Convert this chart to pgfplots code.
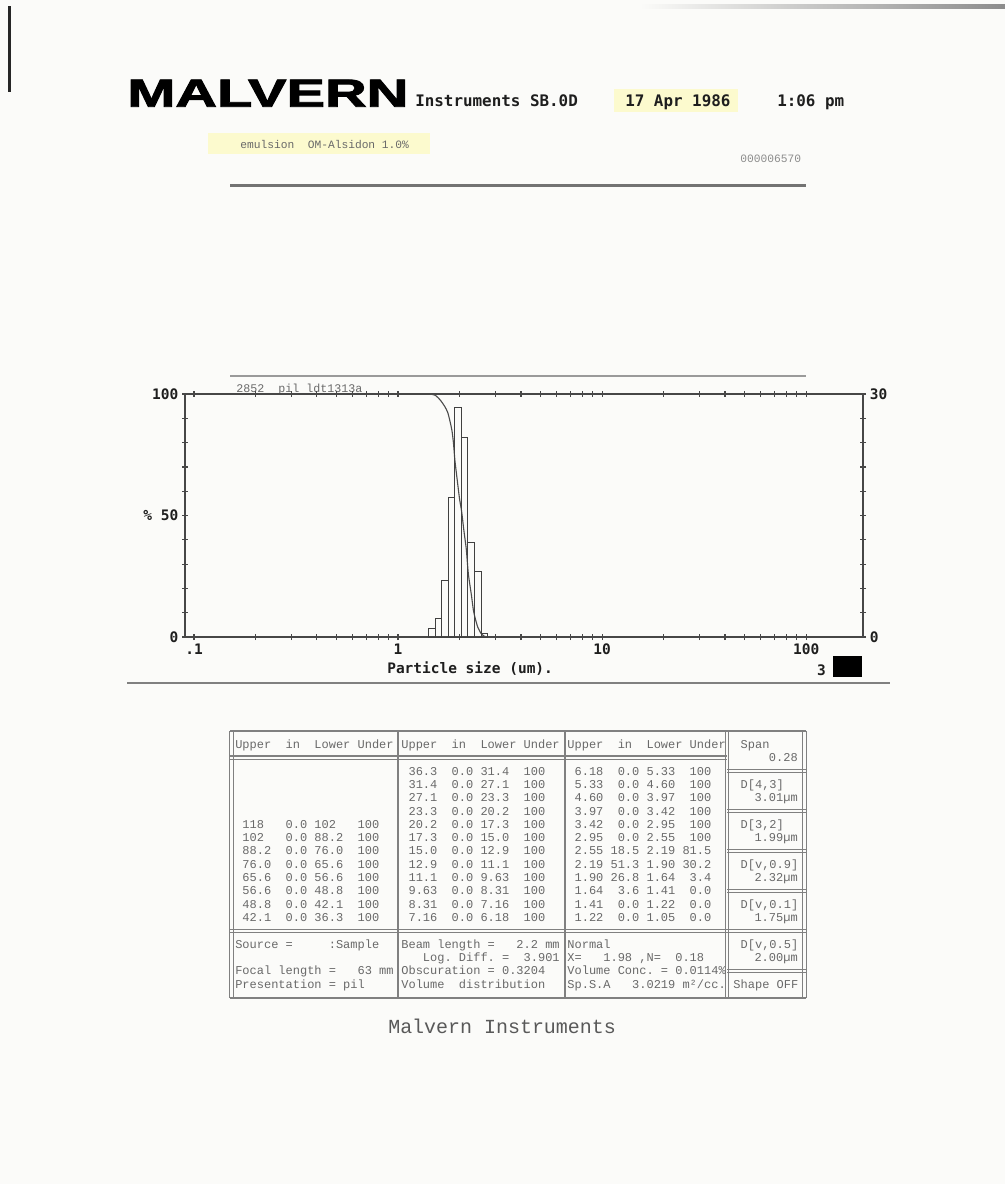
\documentclass[border=0pt]{standalone}
\usepackage{fontspec}
\usepackage{graphicx}
\usepackage{pgfplots}
\pgfplotsset{compat=1.18}
\setmainfont{Liberation Sans}
\newfontfamily\logofont{Liberation Sans Bold}[FakeBold=2]
\newfontfamily\dmfont{DejaVu Sans Mono}
\newfontfamily\prfont{Liberation Mono}
\newcommand\tickfont{\dmfont\bfseries\fontsize{10.3}{12}\selectfont}
\newcommand\tabfont{\prfont\fontsize{8.53}{10}\selectfont}

\definecolor{paper}{RGB}{251,251,249}
\definecolor{ink}{RGB}{30,30,30}
\definecolor{tgray}{RGB}{105,105,105}
\definecolor{rule}{RGB}{128,128,128}
\definecolor{hilite}{RGB}{252,250,206}

% printout grid: character pitch 7.22 units, row pitch 13.33 units
\newcommand\T[3]{\node[anchor=base west,inner sep=0,text=tgray] at ({227.8+7.22*#1},{775+13.33*(#2)}) {\tabfont #3};}
\newcommand\R[2]{\node[anchor=base east,inner sep=0,text=tgray] at (798,{775+13.33*(#1)}) {\tabfont #2};}
\newcommand\HD[3]{\draw[rule,line width=0.3mm] (#2,{769.4+13.33*(#1)}) -- (#3,{769.4+13.33*(#1)});
                  \draw[rule,line width=0.3mm] (#2,{772.6+13.33*(#1)}) -- (#3,{772.6+13.33*(#1)});}
\newcommand\VD[1]{\draw[rule,line width=0.28mm] ({#1-1.6},731) -- ({#1-1.6},998);
                  \draw[rule,line width=0.28mm] ({#1+1.6},731) -- ({#1+1.6},998);}

\begin{document}
\begin{tikzpicture}
\begin{scope}[x=0.25mm,y=-0.25mm]
  % sheet
  \fill[paper] (0,0) rectangle (1005,1184);
  \fill[black!85] (7.5,6) rectangle (11,92);
  \shade[left color=paper, right color=black!45] (640,4) rectangle (1005,8);

  % letterhead
  \node[anchor=south west,inner sep=0] at (127,107) {\resizebox{70.25mm}{6.75mm}{\logofont MALVERN}};
  \node[anchor=base west,inner sep=0,text=ink] at (415,106) {\tickfont\fontsize{11.3}{13}\selectfont Instruments SB.0D};
  \fill[hilite] (614,89) rectangle (738,112);
  \node[anchor=base west,inner sep=0,text=ink] at (625,106) {\tickfont\fontsize{11.3}{13}\selectfont 17 Apr 1986};
  \node[anchor=base west,inner sep=0,text=ink] at (777,106) {\tickfont\fontsize{11.3}{13}\selectfont 1:06 pm};
  \fill[hilite] (208,133) rectangle (430,154);
  \node[anchor=base west,inner sep=0,text=tgray] at (240,148) {\prfont\fontsize{8}{9}\selectfont emulsion~~OM-Alsidon 1.0\%};
  \node[anchor=base west,inner sep=0,text=black!45] at (740,162) {\prfont\fontsize{8}{9}\selectfont 000006570};
  \draw[rule!90!black,line width=0.75mm] (230,185) -- (806,185);
  \draw[rule!80,line width=0.5mm] (230,376) -- (806,376);
  \node[anchor=base west,inner sep=0,text=tgray] at (236,392) {\prfont\fontsize{8.3}{9}\selectfont 2852~~pil ldt1313a};

  % chart captions
  \node[anchor=base west,inner sep=0,text=ink] at (387,673) {\tickfont Particle size (um).};
  \node[anchor=base east,inner sep=0,text=ink] at (826,675) {\tickfont 3};
  \fill[black] (833,656) rectangle (862,677);
  \draw[rule,line width=0.6mm] (127,683) -- (890,683);

  % ---- results table ----
  \draw[rule,line width=0.28mm] (230,731) -- (806,731);
  \draw[rule,line width=0.28mm] (230,998) -- (806,998);
  \VD{231.5}
  \draw[rule,line width=0.28mm] (398,731) -- (398,998);
  \draw[rule,line width=0.28mm] (565,731) -- (565,998);
  \VD{727}
  \VD{804.5}
  \HD{-1}{230}{727}
  \HD{0}{727}{806}
  \HD{3}{727}{806}
  \HD{6}{727}{806}
  \HD{9}{727}{806}
  \HD{12}{230}{806}
  \HD{15}{727}{806}

  \T{1}{-2}{Upper~~in~~Lower~Under}
  \T{24}{-2}{Upper~~in~~Lower~Under}
  \T{47}{-2}{Upper~~in~~Lower~Under}
  \T{70}{-2}{~Span}
  \R{-1}{0.28}

  \T{1}{4}{~118~~~0.0~102~~~100}
  \T{1}{5}{~102~~~0.0~88.2~~100}
  \T{1}{6}{~88.2~~0.0~76.0~~100}
  \T{1}{7}{~76.0~~0.0~65.6~~100}
  \T{1}{8}{~65.6~~0.0~56.6~~100}
  \T{1}{9}{~56.6~~0.0~48.8~~100}
  \T{1}{10}{~48.8~~0.0~42.1~~100}
  \T{1}{11}{~42.1~~0.0~36.3~~100}

  \T{24}{0}{~36.3~~0.0~31.4~~100}
  \T{24}{1}{~31.4~~0.0~27.1~~100}
  \T{24}{2}{~27.1~~0.0~23.3~~100}
  \T{24}{3}{~23.3~~0.0~20.2~~100}
  \T{24}{4}{~20.2~~0.0~17.3~~100}
  \T{24}{5}{~17.3~~0.0~15.0~~100}
  \T{24}{6}{~15.0~~0.0~12.9~~100}
  \T{24}{7}{~12.9~~0.0~11.1~~100}
  \T{24}{8}{~11.1~~0.0~9.63~~100}
  \T{24}{9}{~9.63~~0.0~8.31~~100}
  \T{24}{10}{~8.31~~0.0~7.16~~100}
  \T{24}{11}{~7.16~~0.0~6.18~~100}

  \T{47}{0}{~6.18~~0.0~5.33~~100}
  \T{47}{1}{~5.33~~0.0~4.60~~100}
  \T{47}{2}{~4.60~~0.0~3.97~~100}
  \T{47}{3}{~3.97~~0.0~3.42~~100}
  \T{47}{4}{~3.42~~0.0~2.95~~100}
  \T{47}{5}{~2.95~~0.0~2.55~~100}
  \T{47}{6}{~2.55~18.5~2.19~81.5}
  \T{47}{7}{~2.19~51.3~1.90~30.2}
  \T{47}{8}{~1.90~26.8~1.64~~3.4}
  \T{47}{9}{~1.64~~3.6~1.41~~0.0}
  \T{47}{10}{~1.41~~0.0~1.22~~0.0}
  \T{47}{11}{~1.22~~0.0~1.05~~0.0}

  \T{70}{1}{~D[4,3]}
  \R{2}{3.01µm}
  \T{70}{4}{~D[3,2]}
  \R{5}{1.99µm}
  \T{70}{7}{~D[v,0.9]}
  \R{8}{2.32µm}
  \T{70}{10}{~D[v,0.1]}
  \R{11}{1.75µm}
  \T{70}{13}{~D[v,0.5]}
  \R{14}{2.00µm}
  \T{70}{16}{Shape~OFF}

  \T{1}{13}{Source~=~~~~~:Sample}
  \T{1}{15}{Focal~length~=~~~63~mm}
  \T{1}{16}{Presentation~=~pil}
  \T{24}{13}{Beam~length~=~~~2.2~mm}
  \T{24}{14}{~~~Log.~Diff.~=~~3.901}
  \T{24}{15}{Obscuration~=~0.3204}
  \T{24}{16}{Volume~~distribution}
  \T{47}{13}{Normal}
  \T{47}{14}{X=~~~1.98~,N=~~0.18}
  \T{47}{15}{Volume~Conc.~=~0.0114\%}
  \T{47}{16}{Sp.S.A~~~3.0219~m²/cc.}

  \node[anchor=base west,inner sep=0,text=black!65] at (388,1033) {\prfont\fontsize{14.2}{16}\selectfont Malvern Instruments};
\end{scope}

% cumulative curve, left scale (%)
\begin{axis}[
  at={(46.25mm,-159.25mm)}, anchor=south west,
  width=169.5mm, height=60.75mm, scale only axis,
  xmode=log, xmin=0.0903, xmax=190, ymin=0, ymax=100,
  axis line style={draw=black!72, line width=0.38mm},
  xtick={0.1,1,10,100}, xticklabels={.1,1,10,100},
  minor xtick={0.2,0.3,0.4,0.5,0.6,0.7,0.8,0.9,2,3,4,5,6,7,8,9,20,30,40,50,60,70,80,90},
  ytick={0,10,20,30,40,50,60,70,80,90,100},
  yticklabels={0,,,,,\% 50,,,,,100},
  ytick pos=left,
  tick align=center, major tick length=1.5mm, minor tick length=1.5mm,
  tick style={draw=black!72, line width=0.3mm},
  ticklabel style={font=\tickfont, text=ink},
  xticklabel style={anchor=north, yshift=0.2mm},
  yticklabel style={anchor=east, xshift=0.3mm},
  clip=false,
]
\addplot[draw=black!70, line width=0.28mm, smooth, tension=0.4] coordinates {
  (1.43,100) (1.52,99.5) (1.61,97.5) (1.69,95) (1.75,92.5) (1.80,88.5)
  (1.84,84.5) (1.87,79.5) (1.90,72.5) (1.96,63) (2.00,57) (2.05,51.5)
  (2.10,44) (2.16,36) (2.21,26) (2.29,17) (2.34,11) (2.40,7) (2.46,4)
  (2.55,1.5) (2.65,0.3) (2.75,0)
};
\end{axis}

% volume in each size band, right scale
\begin{axis}[
  at={(46.25mm,-159.25mm)}, anchor=south west,
  width=169.5mm, height=60.75mm, scale only axis,
  xmode=log, xmin=0.0903, xmax=190, ymin=0, ymax=30,
  hide x axis, axis y line*=right,
  axis line style={draw=black!72, line width=0.38mm},
  ytick={0,3,6,9,12,15,18,21,24,27,30},
  yticklabels={0,,,,,,,,,,30},
  tick align=center, major tick length=1.5mm,
  tick style={draw=black!72, line width=0.3mm},
  ticklabel style={font=\tickfont, text=ink},
  yticklabel style={anchor=west, xshift=-0.3mm},
]
\addplot[ybar interval, draw=black!75, fill=none, line width=0.25mm] coordinates {
  (1.41,1.05) (1.52,2.28) (1.64,7.0) (1.77,17.25) (1.90,28.3)
  (2.04,24.6) (2.19,11.7) (2.36,8.04) (2.55,0.45) (2.74,0)
};
\end{axis}
\end{tikzpicture}
\end{document}
